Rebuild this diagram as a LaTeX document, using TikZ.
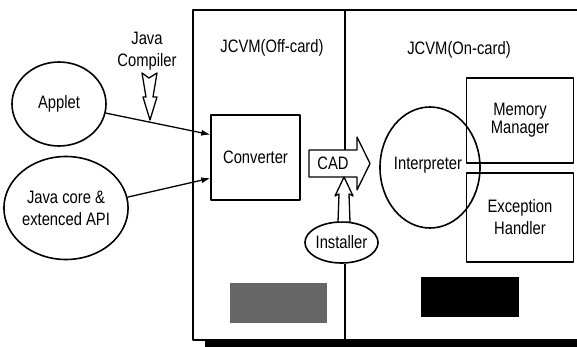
\documentclass[tikz,border=0pt]{standalone}
\usepackage{fontspec}
\setmainfont[FakeStretch=0.82]{Liberation Sans}
\usetikzlibrary{shapes.geometric,arrows.meta,calc}
\begin{document}
\begin{tikzpicture}[x=1pt,y=-1pt,line join=round,
  lbl/.style={font=\fontsize{18}{22}\selectfont,align=center,inner sep=0pt},
  oval/.style={ellipse,draw,line width=1.6pt,inner sep=0pt,font=\fontsize{18}{22}\selectfont,align=center},
  box/.style={draw,line width=1.3pt,inner sep=0pt,font=\fontsize{18}{22}\selectfont,align=center},
  arr/.style={line width=1.3pt,-{Latex[length=9pt,width=6pt]}},
  hollow/.style={draw,line width=1.3pt,fill=white},
  frame/.style={line width=1.3pt}]
\useasboundingbox (0,0) rectangle (577,347);

% frame
\coordinate (ftr) at (577,10);
\coordinate (ftl) at (193,10);
\coordinate (fbl) at (193,340);
\coordinate (fbr) at (577,340);
\draw[frame] (ftr) -- (ftl) -- (fbl) -- (fbr);
\fill (205,341) rectangle (577,347);

% divider
\coordinate (dtop) at (345,10);
\coordinate (dmid) at (345,150);
\coordinate (dbot) at (345,340);

% left ellipses
\node[oval,minimum width=94pt,minimum height=84pt] (applet) at (59,104) {Applet};
\node[oval,minimum width=117pt,minimum height=103pt] (jcore) at (66,208) {Java core \&\\extenced API};

% compiler
\node[lbl] (comp) at (147,51) {Java\\Compiler};
\draw[hollow] (142,73) -- (149,78) -- (157,73) -- (153,97) -- (157,97) -- (150,120) -- (143,97) -- (146,97) -- cycle;

% titles
\node[lbl] (offt) at (272,48) {JCVM(Off-card)};
\node[lbl] (ont) at (459,50) {JCVM(On-card)};

% converter
\node[box,minimum width=89pt,minimum height=85pt] (conv) at (255.5,157.5) {Converter};
\coordinate (cin1) at ($(conv.north west)!0.235!(conv.south west)$);
\coordinate (cin2) at ($(conv.north west)!0.74!(conv.south west)$);
\draw[arr] (applet.-11) -- (cin1);
\draw[arr] (jcore.10) -- (cin2);

% CAD arrow
\draw[hollow] (309,150) -- (357,150) -- (357,137) -- (370,163.5) -- (357,190) -- (357,177) -- (309,177) -- cycle;
\node[lbl] (cad) at (333,163.5) {CAD};
\draw[frame] (dtop) -- (dmid);

% installer
\node[oval,minimum width=67pt,minimum height=41pt] (inst) at (341.5,242.5) {Installer};
\draw[hollow] (344,177) -- (353,196) -- (349,194) -- (350,222) -- (338,222) -- (339,194) -- (335,196) -- cycle;
\draw[frame] (inst.south -| dbot) -- (dbot);

% on-card boxes
\node[box,minimum width=107pt,minimum height=85pt] (mem) at (520,120.5) {Memory\\[-4pt]Manager};
\node[box,minimum width=107pt,minimum height=89pt] (exc) at (520,217.5) {Exception\\Handler};
\node[oval,minimum width=100pt,minimum height=121pt] (interp) at (430,167.5) {};
\node[lbl] (interpt) at (428,165) {Interpreter};

% obscured boxes
\fill[black!60] (230,283) rectangle (327,323);
\fill[black] (421,277) rectangle (519,317);
\end{tikzpicture}
\end{document}
